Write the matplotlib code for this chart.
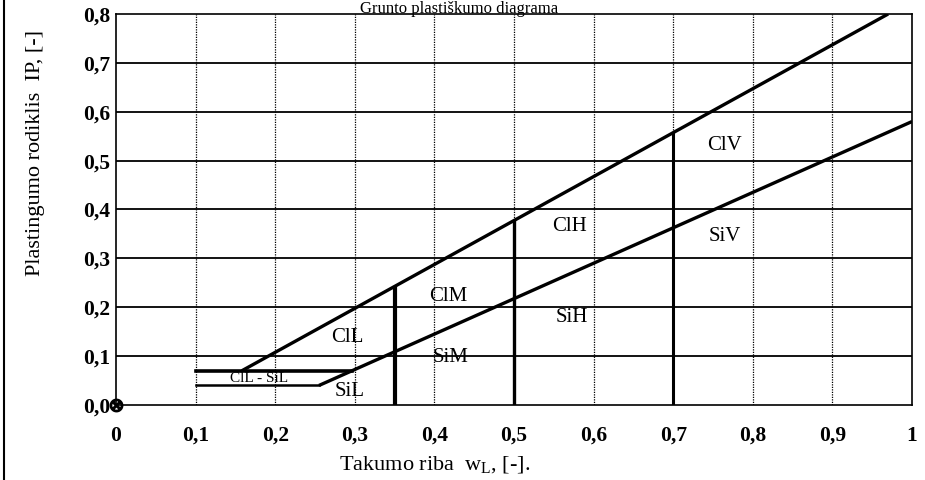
import matplotlib
matplotlib.use('Agg')
import matplotlib.pyplot as plt
from matplotlib.lines import Line2D

plt.rcParams['font.family'] = ['Liberation Serif', 'DejaVu Serif']

# Casagrande plasticity chart
u_wl = [0.158, 0.97]          # upper line
u_ip = [0.07, 0.80]
a_wl = [0.255, 1.0]           # A-line
a_ip = [0.04, 0.58]
h07_wl = [0.10, 0.296]        # ClL-SiL band, upper edge
h07_ip = [0.07, 0.07]
h04_wl = [0.10, 0.255]        # ClL-SiL band, lower edge
h04_ip = [0.04, 0.04]
div_wl = [0.35, 0.50, 0.70]   # dividing verticals
div_top = [0.24, 0.377, 0.557]
div_lw = [3.0, 2.4, 2.2]

zone_names = ['ClV', 'SiV', 'ClH', 'SiH', 'ClM', 'SiM', 'ClL', 'SiL', 'ClL - SiL']
zone_wl = [0.765, 0.765, 0.57, 0.572, 0.418, 0.42, 0.29, 0.293, 0.18]
zone_ip = [0.53, 0.345, 0.365, 0.18, 0.223, 0.098, 0.139, 0.027, 0.055]

xticks = [0, 0.1, 0.2, 0.3, 0.4, 0.5, 0.6, 0.7, 0.8, 0.9, 1.0]
xlabels = ['0', '0,1', '0,2', '0,3', '0,4', '0,5', '0,6', '0,7', '0,8', '0,9', '1']
yticks = [0, 0.1, 0.2, 0.3, 0.4, 0.5, 0.6, 0.7, 0.8]
ylabels = ['0,0', '0,1', '0,2', '0,3', '0,4', '0,5', '0,6', '0,7', '0,8']

fig = plt.figure(figsize=(9.25, 4.8), dpi=100, facecolor='white')
ax = fig.add_axes([0.1254, 0.15625, 0.8606, 0.8146])
ax.set_xlim(0, 1)
ax.set_ylim(0, 0.8)

# grid: solid horizontals, dotted verticals
for y in yticks[1:-1]:
    ax.axhline(y, color='black', lw=1.3, zorder=1)
for x in xticks[1:-1]:
    ax.axvline(x, color='black', lw=0.9, ls=(0, (1, 1)), zorder=1)

ax.plot(u_wl, u_ip, color='black', lw=2.4, solid_capstyle='butt', zorder=3)
ax.plot(a_wl, a_ip, color='black', lw=2.4, solid_capstyle='butt', zorder=3)
ax.plot(h07_wl, h07_ip, color='black', lw=2.6, zorder=3)
ax.plot(h04_wl, h04_ip, color='black', lw=1.8, zorder=3)
for x, top, lw in zip(div_wl, div_top, div_lw):
    ax.plot([x, x], [0, top], color='black', lw=lw, zorder=3)

for name, x, y in zip(zone_names, zone_wl, zone_ip):
    fs = 11 if name == 'ClL - SiL' else 15
    ax.text(x, y, name, fontsize=fs, ha='center', va='center', zorder=4)

ax.plot([0], [0], marker='$\\otimes$', color='black', ms=9, clip_on=False, zorder=5)

ax.set_xticks(xticks)
ax.set_xticklabels(xlabels, fontsize=15.5, fontweight='bold')
ax.set_yticks(yticks)
ax.set_yticklabels(ylabels, fontsize=15.5, fontweight='bold')
ax.tick_params(axis='x', length=0, pad=15)
ax.tick_params(axis='y', length=0, pad=4)
for sp in ax.spines.values():
    sp.set_color('black')
    sp.set_linewidth(1.2)

fig.text(0.496, 1 - 1.0 / 480, 'Grunto plastiškumo diagrama', fontsize=12,
         ha='center', va='top')
fig.text(0.47, 0.031, 'Takumo riba  w$_\\mathregular{L}$, [-].', fontsize=16,
         ha='center', va='center')
fig.text(0.038, 0.681, 'Plastingumo rodiklis  IP, [-]', fontsize=16,
         rotation=90, ha='center', va='center')

fig.add_artist(Line2D([0.004, 0.004], [0.0, 1.0], color='black', lw=1.5))

fig.savefig('out.png', dpi=100, facecolor='white')
